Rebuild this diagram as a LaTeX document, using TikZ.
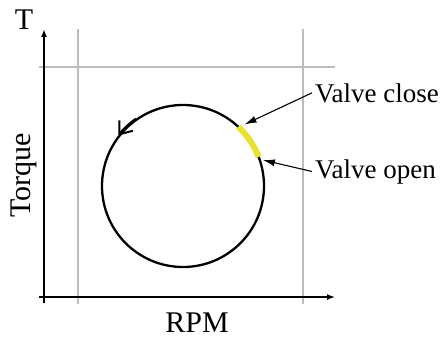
\documentclass[tikz,border=0pt]{standalone}
\usepackage{fontspec}
\setmainfont{Liberation Serif}
\usepackage{tikz}
\usetikzlibrary{arrows.meta,calc,positioning}
\definecolor{gridGray}{HTML}{BDBDBD}
\definecolor{valveYellow}{HTML}{E6E22E}

\begin{document}
\begin{tikzpicture}[x=1pt,y=1pt,>={Latex[length=8pt,width=6pt]},
    axislabel/.style={font=\fontsize{30}{32}\selectfont,inner sep=0pt},
    valvelabel/.style={font=\fontsize{27}{30}\selectfont,inner sep=3pt,anchor=base west}]
    \useasboundingbox (0,0) rectangle (441,338);
    % grid lines
    \draw[gridGray,line width=1.2pt] (39,271)--(335,271);
    \draw[gridGray,line width=1.2pt] (78,34)--(78,309);
    \draw[gridGray,line width=1.2pt] (303,34)--(303,309);
    % axes
    \draw[line width=1.8pt,->] (44,35)--(44,309);
    \draw[line width=1.5pt,->] (39,41)--(335,41);
    \node[axislabel] (T) at (24,318) {T};
    \node[axislabel,rotate=90] (torque) at (24,163) {Torque};
    \node[axislabel] (rpm) at (197,15) {RPM};
    % cycle
    \coordinate (C) at (183,152);
    \draw[line width=2.3pt] (C) circle (81);
    \draw[valveYellow,line width=6pt] ($(C)+(21:81)$) arc[start angle=21,end angle=47,radius=81];
    \draw[line width=2.3pt,-{Straight Barb[length=11pt,width=17pt,line width=2pt]}] ($(C)+(125:82)$) arc[start angle=125,end angle=142,radius=82];
    % valve labels
    \node[valvelabel] (vclose) at (312,236) {Valve close};
    \node[valvelabel] (vopen) at (312,160) {Valve open};
    \coordinate (closept) at ($(C)+(45:87)$);
    \coordinate (openpt) at ($(C)+(18:84)$);
    \draw[-{Latex[length=12pt,width=7pt]},line width=1.1pt] (vclose.west)--(closept);
    \draw[-{Latex[length=12pt,width=7pt]},line width=1.1pt] (vopen.west)--(openpt);
  \end{tikzpicture}
\end{document}
